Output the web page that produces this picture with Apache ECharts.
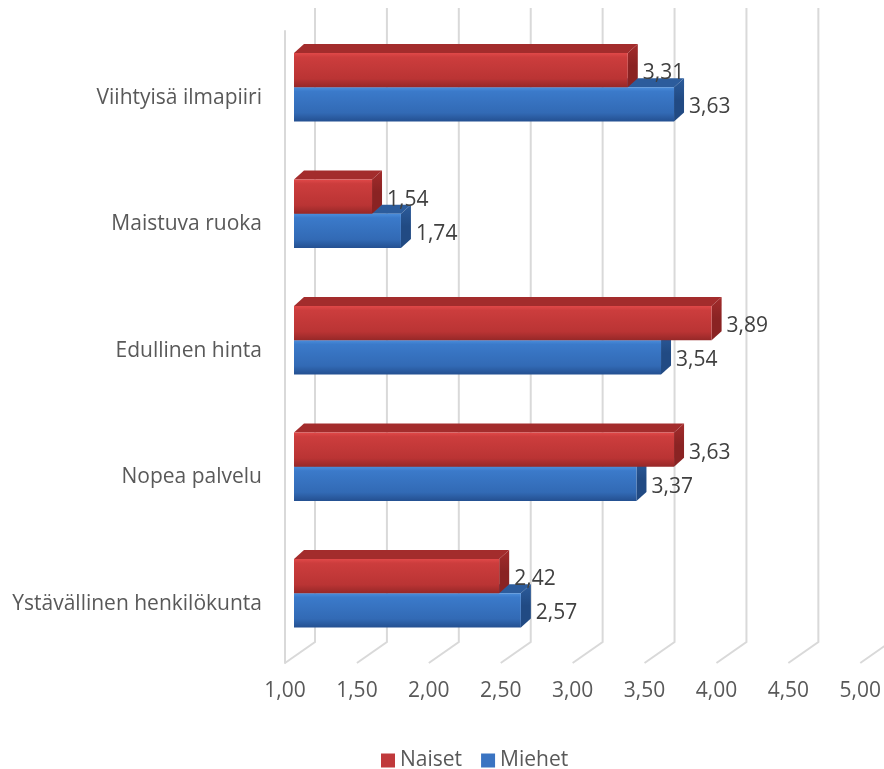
<!DOCTYPE html>
<html>
<head>
<meta charset="utf-8">
<script src="https://cdn.jsdelivr.net/npm/echarts@6/dist/echarts.min.js"></script>
<style>
  html, body { margin: 0; padding: 0; background: #ffffff; }
  #chart { width: 884px; height: 769px; }
</style>
</head>
<body>
<div id="chart"></div>
<script>
// Categories, top to bottom
const categories = [
  'Viihtyisä ilmapiiri',
  'Maistuva ruoka',
  'Edullinen hinta',
  'Nopea palvelu',
  'Ystävällinen henkilökunta'
];
// Average scores per group
const naiset = [3.31, 1.54, 3.89, 3.63, 2.42];
const miehet = [3.63, 1.74, 3.54, 3.37, 2.57];
// Value axis ticks
const xTicks = [1.0, 1.5, 2.0, 2.5, 3.0, 3.5, 4.0, 4.5, 5.0];
const xMin = 1, xMax = 5, xStep = 0.5;

const fontFamily = '"Open Sans", "Liberation Sans", sans-serif';
const fontSize = 21;
const gridColor = '#d9d9d9';
const fmt = v => v.toFixed(2).replace('.', ',');

// Colours of the three visible faces of each 3D bar
const palette = {
  Naiset: {
    front: [[0, '#e04848'], [0.12, '#cc3d3d'], [0.75, '#ba3434'], [1, '#962828']],
    top: '#a32c2c', side: '#8a2323', legend: '#c0393b'
  },
  Miehet: {
    front: [[0, '#4a8ddb'], [0.12, '#3b7aca'], [0.75, '#326ab5'], [1, '#245091']],
    top: '#2c5c9c', side: '#214a83', legend: '#3a74c2'
  }
};

function lin(stops) {
  return new echarts.graphic.LinearGradient(0, 0, 0, 1,
    stops.map(s => ({ offset: s[0], color: s[1] })));
}

// 3D bar: front face + top face + right end face, plus value label
function bar3D(name, above) {
  const pal = palette[name];
  return function (params, api) {
    const v = api.value(0);
    const ci = api.value(1);
    const p0 = api.coord([xMin, ci]);
    const p1 = api.coord([v, ci]);
    const band = api.size([0, 1])[1];
    const h = band * 0.27;
    const dx = 10, dy = 9;
    const cy = p0[1];
    const yTop = above ? cy - h : cy;
    const yBot = above ? cy : cy + h;
    const x0 = p0[0], x1 = p1[0];
    return {
      type: 'group',
      children: [
        {
          type: 'polygon',
          shape: { points: [[x0, yTop], [x1, yTop], [x1 + dx, yTop - dy], [x0 + dx, yTop - dy]] },
          style: { fill: pal.top }
        },
        {
          type: 'polygon',
          shape: { points: [[x1, yTop], [x1 + dx, yTop - dy], [x1 + dx, yBot - dy], [x1, yBot]] },
          style: { fill: lin([[0, pal.top], [0.5, pal.side], [1, pal.side]]) }
        },
        {
          type: 'rect',
          shape: { x: x0, y: yTop, width: x1 - x0, height: yBot - yTop },
          style: { fill: lin(pal.front) }
        },
        {
          type: 'text',
          x: x1 + 15,
          y: (yTop + yBot) / 2 + 3,
          style: {
            text: fmt(v),
            fill: '#404040',
            font: fontSize + 'px ' + fontFamily,
            align: 'left',
            verticalAlign: 'middle'
          }
        }
      ]
    };
  };
}

const chart = echarts.init(document.getElementById('chart'), null, { renderer: 'canvas' });

chart.setOption({
  backgroundColor: '#ffffff',
  animation: false,
  textStyle: { fontFamily: fontFamily },
  legend: {
    data: ['Naiset', 'Miehet'],
    top: 745,
    left: 376,
    icon: 'rect',
    itemWidth: 14,
    itemHeight: 14,
    itemGap: 19,
    textStyle: { fontSize: fontSize, color: '#595959', fontFamily: fontFamily }
  },
  grid: [
    // plane of the bars
    { left: 294, top: 24, width: 578, height: 632.5 },
    // front edge of the floor, carries the value labels
    { left: 285, top: 31, width: 578, height: 632 }
  ],
  xAxis: [
    { gridIndex: 0, type: 'value', min: xMin, max: xMax, interval: xStep, show: false },
    {
      gridIndex: 1, type: 'value', min: xMin, max: xMax, interval: xStep,
      axisLine: { show: false }, axisTick: { show: false }, splitLine: { show: false },
      axisLabel: {
        margin: 18,
        fontSize: fontSize,
        color: '#595959',
        fontFamily: fontFamily,
        formatter: v => fmt(v)
      }
    }
  ],
  yAxis: [
    {
      gridIndex: 0, type: 'category', data: categories, inverse: true,
      axisLine: { show: false }, axisTick: { show: false }, splitLine: { show: false },
      axisLabel: {
        margin: 32,
        fontSize: fontSize,
        color: '#595959',
        fontFamily: fontFamily,
        verticalAlign: 'top'
      }
    },
    {
      gridIndex: 1, type: 'value', min: 0, max: 1,
      axisLine: { show: true, lineStyle: { color: gridColor, width: 2 } },
      axisTick: { show: false }, axisLabel: { show: false }, splitLine: { show: false }
    }
  ],
  series: [
    {
      // floor line from the front edge to the back wall, then up the back wall
      name: 'walls',
      type: 'custom',
      xAxisIndex: 1,
      yAxisIndex: 1,
      silent: true,
      clip: false,
      z: 1,
      data: xTicks.map(t => [t, 0]),
      renderItem: function (params, api) {
        const p = api.coord([api.value(0), 0]);
        const top = api.coord([api.value(0), 1])[1] - 23;
        const bx = p[0] + 30, by = p[1] - 21;
        return {
          type: 'polyline',
          shape: { points: [[p[0], p[1]], [bx, by], [bx, top]] },
          style: { stroke: gridColor, lineWidth: 2, fill: null }
        };
      }
    },
    {
      name: 'Miehet',
      type: 'custom',
      xAxisIndex: 0,
      yAxisIndex: 0,
      z: 3,
      itemStyle: { color: palette.Miehet.legend },
      data: miehet.map((v, i) => [v, i]),
      encode: { x: 0, y: 1 },
      renderItem: bar3D('Miehet', false)
    },
    {
      name: 'Naiset',
      type: 'custom',
      xAxisIndex: 0,
      yAxisIndex: 0,
      z: 4,
      itemStyle: { color: palette.Naiset.legend },
      data: naiset.map((v, i) => [v, i]),
      encode: { x: 0, y: 1 },
      renderItem: bar3D('Naiset', true)
    }
  ]
});
</script>
</body>
</html>
